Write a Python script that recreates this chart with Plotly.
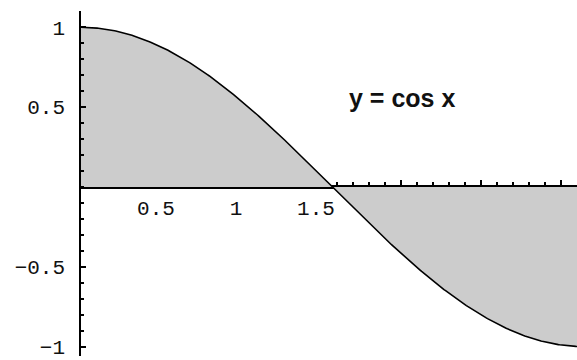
import numpy as np
import plotly.graph_objects as go

# Function sampled over the plotted interval
x_start, x_end = 0.0, 3.1
x_vals = np.linspace(x_start, x_end, 400)
y_vals = np.cos(x_vals)

# Axis ticks
x_tick_vals = [0.5, 1, 1.5, 2, 2.5, 3]
x_tick_text = ["0.5", "1", "1.5", "", "", ""]
y_tick_vals = [-1, -0.5, 0.5, 1]
y_tick_text = ["\u22121", "\u22120.5", "0.5", "1"]

label_text = "y = cos x"

tick_font = dict(family="Liberation Mono", size=21, color="#111111")

fig = go.Figure()
fig.add_trace(go.Scatter(
    x=x_vals, y=y_vals,
    mode="lines",
    fill="tozeroy",
    fillcolor="#cccccc",
    line=dict(color="black", width=1.6),
    hoverinfo="skip",
    showlegend=False,
))

fig.add_annotation(
    x=1.66, y=0.56, xref="x", yref="y",
    text=label_text, showarrow=False,
    xanchor="left", yanchor="middle",
    font=dict(family="Liberation Sans", size=25, color="#111111", weight="bold"),
)

fig.update_layout(
    width=577, height=360,
    margin=dict(l=81, r=0, t=11, b=0),
    paper_bgcolor="white", plot_bgcolor="white",
    xaxis=dict(
        range=[x_start, x_end],
        anchor="free", position=0.49,
        showline=True, linecolor="black", linewidth=3.5,
        showgrid=False, zeroline=False,
        tickmode="array", tickvals=x_tick_vals, ticktext=x_tick_text,
        ticks="inside", ticklen=5, tickwidth=1.5, tickcolor="black",
        minor=dict(dtick=0.1, ticks="inside", ticklen=3, tickwidth=1.5, tickcolor="black"),
        tickfont=tick_font,
        ticklabelshift=-5,
        ticklabelstandoff=1,
        layer="below traces",
    ),
    yaxis=dict(
        range=[-1.059, 1.102],
        showline=True, linecolor="black", linewidth=1.5,
        showgrid=False, zeroline=False,
        tickmode="array", tickvals=y_tick_vals, ticktext=y_tick_text,
        ticks="inside", ticklen=5, tickwidth=1.5, tickcolor="black",
        minor=dict(dtick=0.1, ticks="inside", ticklen=3, tickwidth=1.5, tickcolor="black"),
        tickfont=tick_font,
        ticklabelstandoff=10,
        ticklabeloverflow="allow",
        layer="above traces",
    ),
)

fig.write_html("out.html")
